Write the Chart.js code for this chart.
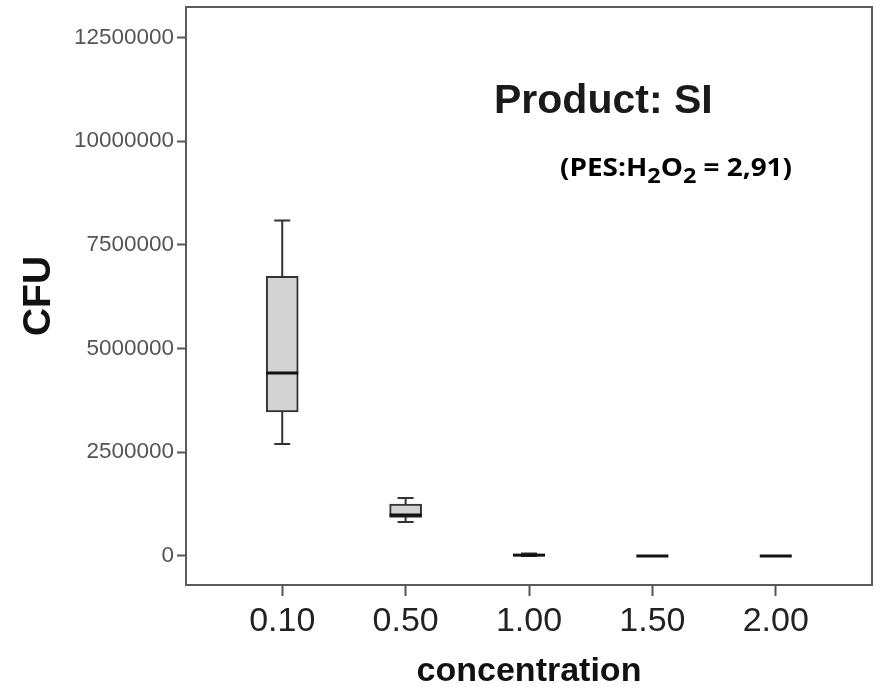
<!DOCTYPE html>
<html>
<head>
<meta charset="utf-8">
<script src="https://cdn.jsdelivr.net/npm/chart.js@4"></script>
<style>
  html, body { margin: 0; background: #fff; }
</style>
</head>
<body>
<canvas id="boxplot" width="874" height="687"></canvas>
<script>
// concentration groups and box plot statistics (CFU)
const concentrations = ["0.10", "0.50", "1.00", "1.50", "2.00"];
const whiskerLow = [2700000, 820000, 0, 0, 0];
const quartile1 = [3470000, 930000, 0, 0, 0];
const medians = [4410000, 990000, 20000, 0, 0];
const quartile3 = [6740000, 1250000, 40000, 0, 0];
const whiskerHigh = [8090000, 1400000, 60000, 0, 0];
const yTicks = [0, 2500000, 5000000, 7500000, 10000000, 12500000];

const LINE = "#333";

// whiskers under the boxes, medians on top
const boxExtras = {
  id: "boxExtras",
  beforeDatasetsDraw(chart) {
    const { ctx, scales: { x, y } } = chart;
    ctx.save();
    ctx.strokeStyle = LINE;
    ctx.lineWidth = 2;
    concentrations.forEach((_, i) => {
      if (whiskerHigh[i] === whiskerLow[i]) return;
      const px = x.getPixelForValue(i);
      const hi = y.getPixelForValue(whiskerHigh[i]);
      const lo = y.getPixelForValue(whiskerLow[i]);
      ctx.beginPath();
      ctx.moveTo(px, hi);
      ctx.lineTo(px, lo);
      ctx.moveTo(px - 8, hi);
      ctx.lineTo(px + 8, hi);
      ctx.moveTo(px - 8, lo);
      ctx.lineTo(px + 8, lo);
      ctx.stroke();
    });
    ctx.restore();
  },
  afterDatasetsDraw(chart) {
    const { ctx, scales: { x, y } } = chart;
    const bars = chart.getDatasetMeta(0).data;
    ctx.save();
    ctx.strokeStyle = "#111";
    ctx.lineWidth = 3;
    concentrations.forEach((_, i) => {
      const px = x.getPixelForValue(i);
      const half = bars[i].width / 2;
      const py = y.getPixelForValue(medians[i]);
      ctx.beginPath();
      ctx.moveTo(px - half, py);
      ctx.lineTo(px + half, py);
      ctx.stroke();
    });
    ctx.restore();
  },
};

// frame around the plot + the two text notes inside it
const frameAndNotes = {
  id: "frameAndNotes",
  afterDraw(chart) {
    const { ctx, chartArea: a } = chart;
    ctx.save();
    ctx.strokeStyle = "#5a5a5a";
    ctx.lineWidth = 2;
    ctx.strokeRect(a.left, a.top, a.right - a.left, a.bottom - a.top);

    ctx.fillStyle = "#1a1a1a";
    ctx.textBaseline = "alphabetic";
    ctx.textAlign = "left";
    ctx.font = "bold 41px 'Liberation Sans', Arial, sans-serif";
    ctx.fillText("Product: SI", 494, 113);

    const parts = [
      ["(PES:H", false], ["2", true], ["O", false], ["2", true], [" = 2,91)", false],
    ];
    const mainFont = "bold 25px 'Open Sans', sans-serif";
    const subFont = "bold 21px 'Open Sans', sans-serif";
    let total = 0;
    parts.forEach(([t, sub]) => {
      ctx.font = sub ? subFont : mainFont;
      total += ctx.measureText(t).width;
    });
    const sx = 232 / total;
    ctx.translate(560, 176);
    ctx.scale(sx, 1);
    ctx.fillStyle = "#000";
    let cx = 0;
    parts.forEach(([t, sub]) => {
      ctx.font = sub ? subFont : mainFont;
      ctx.fillText(t, cx, sub ? 7 : 0);
      cx += ctx.measureText(t).width;
    });
    ctx.restore();
  },
};

new Chart(document.getElementById("boxplot"), {
  type: "bar",
  data: {
    datasets: [
      {
        data: concentrations.map((_, i) => ({ x: i, y: [quartile1[i], quartile3[i]] })),
        backgroundColor: "#d3d3d3",
        borderColor: LINE,
        borderWidth: 2,
        borderSkipped: false,
        barThickness: 32,
      },
    ],
  },
  options: {
    responsive: false,
    animation: false,
    layout: { padding: { top: 7, right: 2, left: 0, bottom: 0 } },
    plugins: { legend: { display: false }, tooltip: { enabled: false } },
    scales: {
      x: {
        type: "linear",
        offset: false,
        min: -0.78,
        max: 4.78,
        afterBuildTicks: (scale) => {
          scale.ticks = concentrations.map((_, i) => ({ value: i }));
        },
        afterFit: (scale) => {
          scale.height = 102;
          scale.paddingLeft = 0;
          scale.paddingRight = 0;
        },
        ticks: {
          callback: (value) => concentrations[value],
          color: "#222",
          font: { family: "'Liberation Sans', Arial, sans-serif", size: 34 },
          padding: 5,
          maxRotation: 0,
          autoSkip: false,
        },
        grid: {
          offset: false,
          drawOnChartArea: false,
          drawTicks: true,
          tickLength: 11,
          tickWidth: 2,
          tickColor: "#555",
        },
        border: { display: false },
        title: {
          display: true,
          text: "concentration",
          color: "#111",
          font: { family: "'Liberation Sans', Arial, sans-serif", size: 34, weight: "bold", lineHeight: 1 },
          padding: { top: 0, bottom: -2 },
        },
      },
      y: {
        min: -700000,
        max: 13235000,
        afterBuildTicks: (scale) => {
          scale.ticks = yTicks.map((v) => ({ value: v }));
        },
        afterFit: (scale) => {
          scale.width = 186;
          scale.paddingTop = 0;
          scale.paddingBottom = 0;
        },
        ticks: {
          callback: (value) => String(value),
          color: "#555",
          font: { family: "'Liberation Sans', Arial, sans-serif", size: 22.5 },
          padding: 3,
        },
        grid: {
          drawOnChartArea: false,
          drawTicks: true,
          tickLength: 9,
          tickWidth: 2,
          tickColor: "#555",
        },
        border: { display: false },
        title: {
          display: true,
          text: "CFU",
          color: "#111",
          font: { family: "'Liberation Sans', Arial, sans-serif", size: 39, weight: "bold", lineHeight: 1 },
          padding: { top: 20, bottom: 0 },
        },
      },
    },
  },
  plugins: [boxExtras, frameAndNotes],
});
</script>
</body>
</html>
